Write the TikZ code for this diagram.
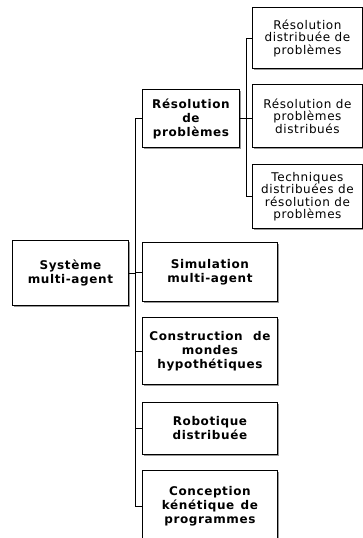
\documentclass[tikz,border=0pt]{standalone}
\usepackage{fontspec}
\setmainfont{DejaVu Sans}
\newfontfamily\trunkfont[LetterSpace=5]{DejaVu Sans}
\newfontfamily\leaffont[LetterSpace=5]{DejaVu Sans}
\usetikzlibrary{shadows}
\begin{document}
\begin{tikzpicture}[x=1pt,y=-1pt,
  box/.style={draw=black,line width=0.9pt,fill=white,anchor=north west,inner sep=0pt,
    align=center,
    drop shadow={shadow xshift=2pt,shadow yshift=-2pt,fill=black!40,opacity=1}},
  mainbox/.style={box,font=\trunkfont\bfseries\fontsize{12}{14}\selectfont},
  leafbox/.style={box,font=\leaffont\fontsize{12}{12.5}\selectfont},
  link/.style={draw=black,line width=0.9pt}]
  \useasboundingbox (0,0) rectangle (363,538);
  \begin{scope}
  \clip (0,0) rectangle (363,538);
  % root and first level
  \node[mainbox,minimum width=116pt,minimum height=65pt] (sys) at (12,240) {Système\\multi-agent};
  \node[mainbox,minimum width=97pt,minimum height=58pt] (rdp) at (142,89) {Résolution\\de\\problèmes};
  \node[mainbox,minimum width=135pt,minimum height=59pt] (sim) at (142,242) {Simulation\\multi-agent};
  \node[mainbox,minimum width=135pt,minimum height=67pt] (con) at (142,317)
    {\makebox[121pt][s]{Construction de}\\mondes\\hypothétiques};
  \node[mainbox,minimum width=135pt,minimum height=52pt] (rob) at (142,402) {Robotique\\distribuée};
  \node[mainbox,minimum width=135pt,minimum height=71pt] (cep) at (142,470)
    {Conception\\\makebox[96pt][s]{kénétique de}\\programmes};
  % second level
  \node[leafbox,minimum width=110pt,minimum height=61pt] (r1) at (252,7) {Résolution\\distribuée de\\problèmes};
  \node[leafbox,minimum width=110pt,minimum height=63pt] (r2) at (252,84) {Résolution de\\problèmes\\distribués};
  \node[leafbox,minimum width=110pt,minimum height=64pt] (r3) at (252,164) {Techniques\\distribuées de\\résolution de\\problèmes};
  % connectors of the first level
  \draw[link] (rdp.west) -- ++(-7,0) coordinate (t1) |- (cep.west);
  \draw[link] (sys.east) -- (sys.east -| t1);
  \draw[link] (sim.west) -- (sim.west -| t1);
  \draw[link] (con.west) -- (con.west -| t1);
  \draw[link] (rob.west) -- (rob.west -| t1);
  % connectors of the second level
  \draw[link] (r1.west) -- ++(-6,0) coordinate (t2) |- (r3.west);
  \draw[link] (rdp.east) -- (rdp.east -| r2.west);
  \end{scope}
\end{tikzpicture}
\end{document}
